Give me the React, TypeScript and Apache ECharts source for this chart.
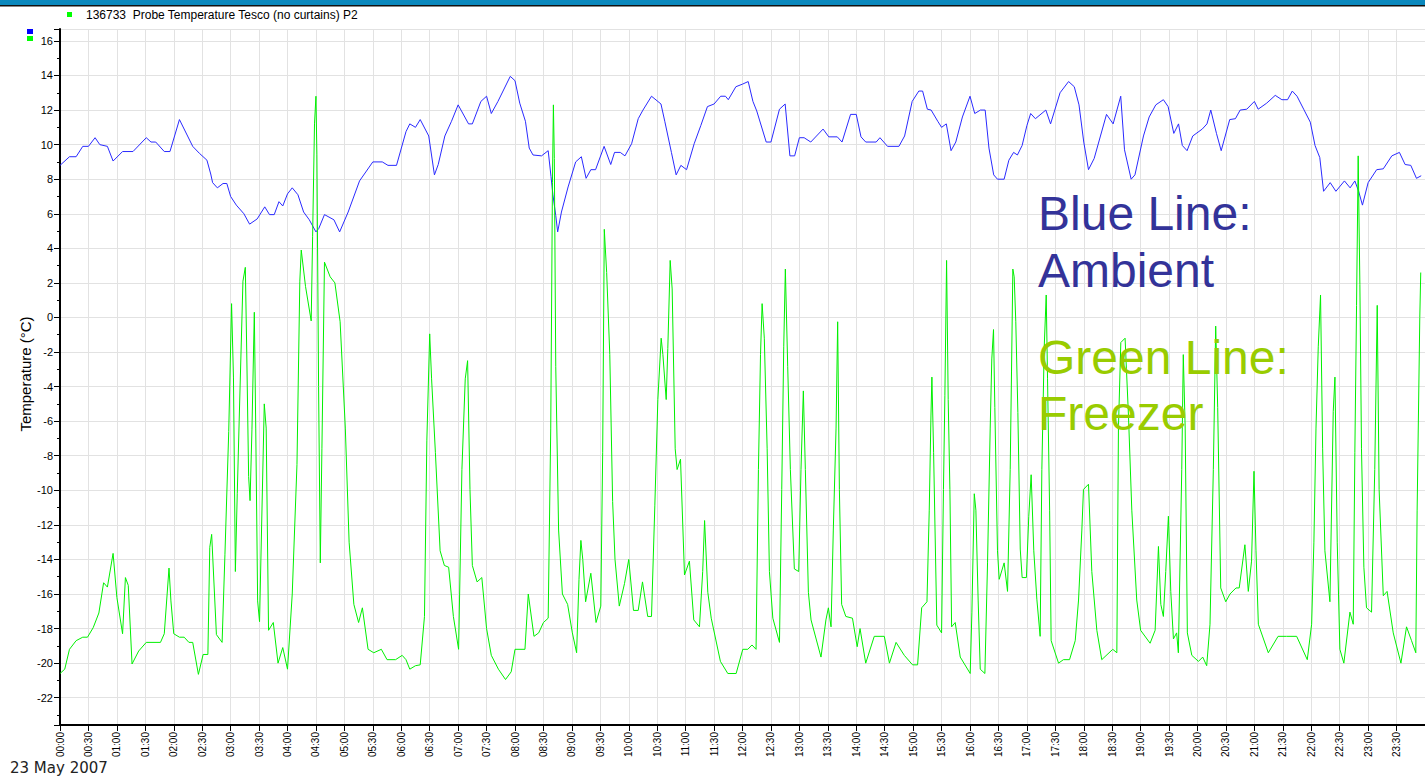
import React, { useEffect, useRef } from 'react';
import * as echarts from 'echarts';

const FONT = '"Liberation Sans", Arial, sans-serif';

const legendText = '136733  Probe Temperature Tesco (no curtains) P2';
const dateText = '23 May 2007';
const axisTitle = 'Temperature (°C)';
const ambientLabel = ['Blue Line:', 'Ambient'];
const freezerLabel = ['Green Line:', 'Freezer'];

// minutes after midnight / °C
const ambientMinutes = [
  0, 10, 17, 24, 30, 37, 42, 50, 56, 66,
  77, 91, 96, 101, 110, 116, 126, 140, 147, 155,
  159, 161, 166, 172, 176, 180, 186, 194, 200, 208,
  216, 221, 226, 231, 235, 240, 245, 251, 257, 263,
  270, 273, 279, 289, 295, 304, 316, 330, 340, 346,
  355, 365, 369, 375, 380, 389, 395, 399, 406, 413,
  420, 431, 435, 444, 450, 455, 462, 475, 480, 485,
  491, 495, 499, 508, 515, 518, 520, 523, 525, 529,
  536, 544, 550, 555, 560, 565, 574, 581, 585, 591,
  596, 603, 610, 615, 624, 634, 638, 645, 650, 655,
  661, 669, 676, 683, 690, 697, 702, 705, 713, 720,
  726, 731, 735, 745, 750, 759, 765, 770, 775, 780,
  785, 792, 805, 811, 820, 825, 834, 840, 845, 850,
  861, 865, 873, 885, 891, 899, 906, 910, 915, 919,
  926, 930, 935, 940, 945, 952, 960, 965, 971, 976,
  980, 985, 989, 996, 1001, 1006, 1010, 1015, 1020, 1024,
  1029, 1040, 1045, 1055, 1064, 1070, 1075, 1080, 1085, 1091,
  1104, 1111, 1119, 1123, 1130, 1134, 1143, 1149, 1156, 1164,
  1169, 1175, 1180, 1184, 1189, 1195, 1205, 1210, 1214, 1220,
  1225, 1234, 1240, 1245, 1252, 1260, 1264, 1273, 1282, 1289,
  1295, 1300, 1305, 1312, 1319, 1324, 1329, 1333, 1340, 1346,
  1355, 1361, 1366, 1370, 1374, 1380, 1389, 1396, 1405, 1413,
  1419, 1425, 1431, 1436,
];
const ambientTemps = [
  8.8, 9.3, 9.3, 9.9, 9.9, 10.4, 10.0, 9.9, 9.05, 9.6,
  9.6, 10.4, 10.15, 10.15, 9.6, 9.6, 11.45, 9.9, 9.5, 9.1,
  8.3, 7.8, 7.5, 7.75, 7.75, 7.0, 6.5, 6.0, 5.4, 5.7,
  6.4, 5.95, 5.95, 6.7, 6.45, 7.15, 7.5, 7.1, 6.1, 5.65,
  4.95, 5.15, 5.95, 5.65, 4.95, 6.1, 7.9, 9.0, 9.0, 8.8,
  8.8, 10.75, 11.2, 11.0, 11.45, 10.5, 8.25, 8.85, 10.5, 11.35,
  12.3, 11.2, 11.2, 12.5, 12.8, 11.8, 12.5, 13.95, 13.7, 12.4,
  11.35, 9.8, 9.4, 9.35, 9.65, 8.15, 7.1, 5.9, 4.95, 6.1,
  7.55, 9.0, 9.3, 8.05, 8.55, 8.55, 9.9, 8.85, 9.55, 9.55,
  9.35, 10.05, 11.5, 12.0, 12.8, 12.35, 11.35, 9.55, 8.25, 8.8,
  8.55, 10.05, 11.1, 12.2, 12.35, 12.8, 12.8, 12.6, 13.35, 13.5,
  13.65, 12.5, 11.95, 10.15, 10.15, 12.05, 12.35, 9.35, 9.35, 10.4,
  10.4, 10.15, 10.9, 10.45, 10.45, 10.15, 11.75, 11.75, 10.45, 10.15,
  10.15, 10.4, 9.9, 9.9, 10.5, 12.5, 13.1, 13.1, 12.05, 12.0,
  11.35, 11.0, 11.2, 9.65, 10.15, 11.6, 12.8, 11.8, 12.0, 12.0,
  9.8, 8.25, 8.0, 8.0, 9.1, 9.55, 9.4, 9.95, 11.1, 11.8,
  11.5, 12.0, 11.2, 13.0, 13.65, 13.35, 12.3, 10.15, 8.55, 9.2,
  11.75, 11.2, 12.8, 9.7, 8.0, 8.25, 10.5, 11.6, 12.3, 12.6,
  12.2, 10.65, 11.2, 9.95, 9.65, 10.5, 10.9, 11.2, 12.0, 10.65,
  9.65, 11.45, 11.5, 12.0, 12.05, 12.5, 12.05, 12.4, 12.85, 12.6,
  12.6, 13.1, 12.8, 12.05, 11.3, 9.95, 9.25, 7.3, 7.8, 7.3,
  7.9, 7.5, 7.9, 7.3, 6.5, 7.8, 8.55, 8.6, 9.35, 9.55,
  8.85, 8.8, 8.05, 8.2,
];

const freezerMinutes = [
  0, 5, 10, 17, 24, 29, 35, 41, 46, 50,
  56, 60, 66, 69, 72, 76, 83, 91, 106, 110,
  115, 117, 120, 126, 131, 136, 140, 146, 151, 156,
  158, 160, 165, 171, 174, 178, 181, 183, 185, 187,
  189, 193, 195.5, 197, 199, 200.5, 202.5, 205, 206.5, 208.5,
  210.5, 215.5, 217.5, 220, 225, 230, 235, 240, 245, 250,
  253, 254.5, 259, 265, 266.5, 268.5, 270, 271, 272.8, 274.6,
  276.3, 279, 285, 290, 295.5, 301, 305, 310, 315, 319,
  325, 331, 339, 345, 354, 361, 365, 369, 375, 380,
  384.5, 387, 390, 392, 396, 401, 405.5, 410, 415, 420.5,
  424, 427.5, 430, 432.5, 435, 440, 445, 450, 455, 462.5,
  470, 476, 480, 490.5, 494, 500, 505, 510, 515, 517.7,
  519.5, 520.5, 521.5, 523, 526, 530, 535.5, 540.5, 545, 547.5,
  549.5, 551.5, 554.5, 560, 565.5, 570.5, 572.5, 574.2, 576.7, 580,
  583, 585.5, 590, 595.5, 600, 605, 610, 614.5, 620, 624,
  627.5, 630.7, 634.2, 636, 639.5, 641.2, 643.7, 645.8, 649, 651,
  654.6, 658.8, 664, 668.6, 674.6, 678, 680, 683.4, 687, 696.7,
  704.5, 713.3, 720.3, 725.6, 730, 734.3, 736.8, 739, 740.7, 743,
  746, 748.4, 752, 759, 761.4, 763.5, 765.2, 767.7, 770.5, 774.7,
  779.3, 781.7, 784.2, 786.3, 789.5, 792.3, 802.8, 808, 810.6, 813.4,
  815.8, 818.7, 820.4, 822.2, 824.6, 829, 836, 841, 844, 850,
  859, 869.6, 875, 882, 890.7, 899.4, 904.7, 909, 914.6, 917,
  918.8, 919.8, 921.6, 925, 930, 932, 933.5, 935.3, 937, 938.8,
  940.6, 944.4, 949.7, 960.2, 962, 964.5, 966.2, 968.6, 970.8, 975.7,
  978.5, 981.3, 983, 984.8, 986.2, 989, 990.8, 996, 999.6, 1002.4,
  1003.8, 1005.2, 1006.6, 1008.3, 1010.5, 1013, 1015, 1019.5, 1022, 1024.5,
  1027.3, 1030.5, 1034, 1035.8, 1038.3, 1040.4, 1041.8, 1044, 1045.6, 1053.4,
  1058.6, 1065, 1071, 1074.5, 1078, 1079.7, 1085, 1088.5, 1093.8, 1099,
  1110.6, 1114.9, 1116.6, 1119.1, 1123.6, 1127.2, 1130.7, 1135.9, 1140, 1150,
  1155.3, 1158.8, 1161.3, 1164, 1166.5, 1169.3, 1171.8, 1174.6, 1178, 1179.8,
  1183.4, 1185, 1187, 1189.3, 1194, 1201, 1205.5, 1209.7, 1213.2, 1216.7,
  1219.2, 1221.3, 1224.5, 1229.8, 1234.3, 1240.6, 1244, 1250, 1253.6, 1257,
  1259.6, 1261.7, 1264.2, 1274.7, 1285, 1294, 1304.6, 1315.8, 1320.4, 1322.8,
  1325, 1327.4, 1329.8, 1332, 1334.4, 1339.7, 1343.2, 1345, 1347.4, 1350.2,
  1354.4, 1360.8, 1364.3, 1366, 1367.8, 1369.5, 1371.3, 1373, 1375.5, 1378.3,
  1383.6, 1387, 1389.6, 1391.6, 1396, 1400, 1406.5, 1414.6, 1420.5, 1425.8,
  1430.3, 1431.7, 1434.5, 1435.5,
];
const freezerTemps = [
  -20.6, -20.35, -19.2, -18.7, -18.5, -18.5, -17.95, -17.1, -15.35, -15.6,
  -13.65, -16.2, -18.3, -15.05, -15.5, -20.05, -19.3, -18.8, -18.8, -18.3,
  -14.5, -16.4, -18.3, -18.5, -18.5, -18.8, -18.8, -20.65, -19.5, -19.5,
  -13.3, -12.55, -18.35, -18.8, -13.7, -6.6, 0.8, -3.5, -14.7, -10.2,
  -6.0, 2.1, 2.9, -2.0, -9.2, -10.6, -6.5, 0.3, -6.4, -16.4,
  -17.6, -5.0, -6.4, -18.1, -17.65, -20.0, -19.1, -20.35, -16.0, -8.5,
  2.1, 3.9, 1.8, -0.2, 4.7, 11.2, 12.8, 9.45, -4.0, -14.2,
  -7.6, 3.2, 2.35, 2.0, -0.25, -6.4, -13.0, -16.6, -17.65, -16.8,
  -19.2, -19.4, -19.2, -19.8, -19.8, -19.55, -19.8, -20.35, -20.15, -20.1,
  -17.3, -7.1, -0.95, -3.55, -7.8, -13.5, -14.35, -14.45, -17.3, -19.2,
  -8.8, -3.55, -2.5, -9.95, -14.35, -15.3, -15.05, -18.0, -19.55, -20.35,
  -20.95, -20.5, -19.2, -19.2, -16.0, -18.45, -18.25, -17.65, -17.4, -6.4,
  7.8, 12.3, 9.2, -2.85, -12.3, -16.0, -16.6, -18.25, -19.4, -15.15,
  -12.9, -14.0, -16.45, -14.8, -17.65, -16.7, -7.8, 5.1, 2.6, -2.15,
  -10.65, -14.0, -16.7, -15.4, -14.0, -16.95, -16.95, -15.3, -17.3, -17.3,
  -10.9, -4.75, -1.2, -2.15, -4.75, -1.8, 3.3, 1.65, -7.6, -8.8,
  -8.2, -14.9, -14.1, -17.5, -17.9, -14.7, -11.75, -15.9, -17.4, -19.9,
  -20.6, -20.6, -19.2, -19.2, -18.95, -19.2, -8.8, -2.15, 0.8, -1.2,
  -7.6, -14.7, -17.4, -18.8, -9.95, -1.7, 2.8, -2.85, -8.8, -14.55,
  -14.7, -8.8, -4.25, -8.8, -15.9, -17.5, -19.65, -17.5, -16.8, -17.9,
  -12.3, -6.4, -0.25, -9.95, -16.6, -17.3, -17.4, -19.05, -18.0, -20.0,
  -18.45, -18.45, -20.0, -18.8, -19.55, -20.1, -20.1, -16.8, -16.45, -11.15,
  -5.7, -3.45, -7.8, -17.8, -18.25, -9.95, -4.5, 3.3, -4.75, -9.95,
  -17.9, -17.65, -19.65, -20.6, -17.05, -10.2, -11.15, -16.35, -20.35, -20.6,
  -14.2, -6.4, -2.4, -0.7, -5.2, -13.5, -15.15, -14.2, -15.85, -8.8,
  -3.1, 2.8, 2.35, -0.25, -5.5, -13.4, -15.05, -15.05, -11.5, -9.1,
  -13.5, -16.3, -18.45, -8.8, -1.7, 1.3, -3.55, -11.15, -18.7, -20.0,
  -19.8, -19.8, -18.7, -16.35, -12.3, -9.95, -9.65, -14.7, -18.1, -19.8,
  -19.2, -19.4, -6.4, -1.45, -1.2, -5.7, -11.15, -16.35, -18.1, -18.85,
  -18.1, -13.25, -16.6, -17.3, -14.7, -11.5, -15.85, -18.6, -18.25, -19.4,
  -8.8, -2.15, -6.4, -18.25, -19.55, -19.9, -19.65, -20.15, -17.75, -8.8,
  -0.5, -5.2, -15.65, -16.45, -16.0, -15.65, -15.65, -13.15, -15.85, -14.1,
  -8.9, -13.5, -17.75, -19.4, -18.45, -18.45, -18.45, -19.8, -17.75, -13.0,
  -6.4, -1.7, 1.3, -7.6, -13.5, -16.45, -5.45, -3.45, -13.0, -19.2,
  -20.0, -17.05, -17.75, -7.8, 0.7, 9.35, 1.9, -7.6, -14.45, -16.8,
  -17.05, -8.8, 0.7, -9.95, -16.1, -15.85, -18.25, -20.0, -17.9, -18.7,
  -19.4, -11.15, 0.0, 2.6,
];

const pad = (n: number) => (n < 10 ? '0' + n : String(n));
const timeLabel = (v: number) => {
  if (v >= 1440 || Math.abs(v % 30) > 1e-6) return '';
  const h = Math.floor(v / 60);
  const m = Math.round(v % 60);
  return pad(h) + ':' + pad(m);
};
const tempLabel = (v: number) => {
  const r = Math.round(v);
  if (Math.abs(v - r) > 1e-6 || r % 2 !== 0) return '';
  return String(r);
};

export default function App() {
  const ref = useRef<HTMLDivElement>(null);
  useEffect(() => {
    if (!ref.current) return;
    const chart = echarts.init(ref.current, null, { renderer: 'svg' });
    const pairs = (xs: number[], ys: number[]) =>
      xs.slice(0, Math.min(xs.length, ys.length)).map((x, i) => [x, ys[i]]);
    chart.setOption({
      animation: false,
      backgroundColor: '#ffffff',
      textStyle: { fontFamily: FONT },
      grid: { left: 60, right: -4.4, top: 29, bottom: 54, containLabel: false },
      xAxis: {
        type: 'value',
        min: 0,
        max: 1440,
        interval: 30,
        axisLine: { show: true, onZero: false, lineStyle: { color: '#000', width: 2 } },
        axisTick: { show: true, length: 6, lineStyle: { color: '#000', width: 1 } },
        axisLabel: {
          rotate: 90,
          margin: 7,
          fontSize: 10,
          color: '#000',
          fontFamily: FONT,
          formatter: timeLabel,
        },
        splitLine: { show: true, lineStyle: { color: '#e2e2e2', width: 1 } },
      },
      yAxis: {
        type: 'value',
        min: -23.58,
        max: 16.69,
        splitNumber: 20,
        minInterval: 2,
        maxInterval: 2,
        axisLine: { show: true, onZero: false, lineStyle: { color: '#000', width: 2 } },
        axisTick: { show: true, length: 6, lineStyle: { color: '#000', width: 1 } },
        minorTick: { show: true, splitNumber: 2, length: 3, lineStyle: { color: '#000', width: 1 } },
        axisLabel: { fontSize: 11, color: '#000', margin: 7, fontFamily: FONT, formatter: tempLabel },
        splitLine: { show: true, lineStyle: { color: '#e2e2e2', width: 1 } },
        minorSplitLine: { show: false },
      },
      series: [
        {
          type: 'line',
          name: 'Ambient',
          data: pairs(ambientMinutes, ambientTemps),
          symbol: 'none',
          showSymbol: false,
          lineStyle: { color: '#2a2aff', width: 1 },
          itemStyle: { color: '#2a2aff' },
          z: 2,
        },
        {
          type: 'line',
          name: legendText,
          data: pairs(freezerMinutes, freezerTemps),
          symbol: 'none',
          showSymbol: false,
          lineStyle: { color: '#00f000', width: 1 },
          itemStyle: { color: '#00f000' },
          z: 3,
        },
      ],
      graphic: [
        { type: 'rect', shape: { x: 0, y: 0, width: 1425, height: 5 }, style: { fill: '#0a88bd' }, z: 10 },
        { type: 'rect', shape: { x: 0, y: 5, width: 1425, height: 1.5 }, style: { fill: '#111111' }, z: 10 },
        { type: 'rect', shape: { x: 67, y: 12, width: 5, height: 5 }, style: { fill: '#00ff00' }, z: 10 },
        {
          type: 'text', x: 86, y: 14.5, z: 10,
          style: { text: legendText, font: '12px ' + FONT, fill: '#000', verticalAlign: 'middle', align: 'left' },
        },
        { type: 'rect', shape: { x: 27, y: 29, width: 6, height: 5 }, style: { fill: '#0000ff' }, z: 10 },
        { type: 'rect', shape: { x: 27, y: 36, width: 6, height: 5 }, style: { fill: '#00ff00' }, z: 10 },
        {
          type: 'text', x: 25, y: 374, rotation: Math.PI / 2, z: 10,
          style: { text: axisTitle, font: '15px ' + FONT, fill: '#000', verticalAlign: 'middle', align: 'center' },
        },
        {
          type: 'text', x: 10, y: 768, z: 10,
          style: { text: dateText, font: '15px "DejaVu Sans", Verdana, sans-serif', fill: '#222', verticalAlign: 'middle', align: 'left' },
        },
        {
          type: 'text', x: 1038, y: 213, z: 10,
          style: { text: ambientLabel[0], font: '48px ' + FONT, fill: '#333399', verticalAlign: 'middle', align: 'left' },
        },
        {
          type: 'text', x: 1038, y: 270, z: 10,
          style: { text: ambientLabel[1], font: '48px ' + FONT, fill: '#333399', verticalAlign: 'middle', align: 'left' },
        },
        {
          type: 'text', x: 1038, y: 357, z: 10,
          style: { text: freezerLabel[0], font: '48px ' + FONT, fill: '#99cc00', verticalAlign: 'middle', align: 'left' },
        },
        {
          type: 'text', x: 1038, y: 413, z: 10,
          style: { text: freezerLabel[1], font: '48px ' + FONT, fill: '#99cc00', verticalAlign: 'middle', align: 'left' },
        },
      ],
    });
    return () => chart.dispose();
  }, []);
  return <div ref={ref} style={{ position: 'absolute', left: 0, top: 0, width: 1425, height: 779 }} />;
}
